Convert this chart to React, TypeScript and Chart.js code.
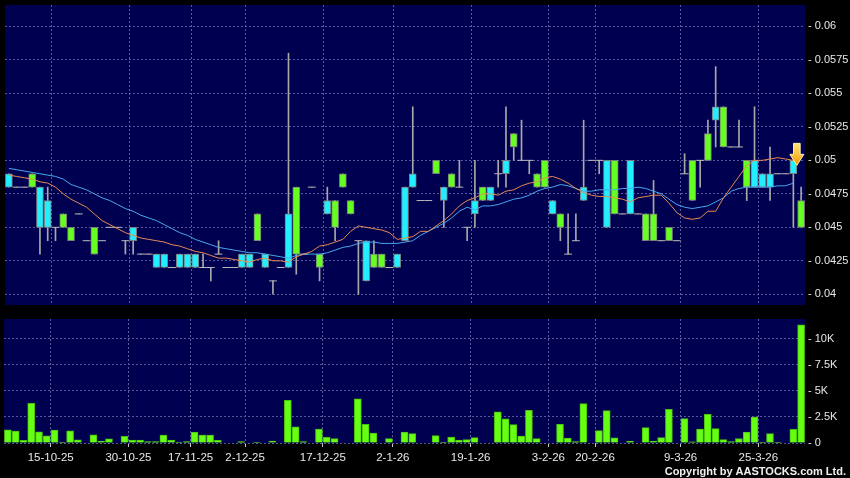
import React, { useEffect, useRef } from 'react';
import { Chart, registerables } from 'chart.js';

Chart.register(...registerables);

// ---- Data ----
const opens = [
  0.049, 0.048, 0.048, 0.048, 0.048, 0.047, 0.045, 0.045, 0.044, 0.046,
  0.044, 0.043, 0.044, 0.045, 0.045, 0.044, 0.045, 0.043, 0.043, 0.043,
  0.043, 0.042, 0.043, 0.043, 0.043, 0.042, 0.042, 0.043, 0.042, 0.042,
  0.043, 0.043, 0.044, 0.043, 0.041, 0.042, 0.046, 0.043, 0.043, 0.048,
  0.042, 0.047, 0.045, 0.048, 0.046, 0.044, 0.044, 0.042, 0.042, 0.042,
  0.043, 0.048, 0.049, 0.047, 0.047, 0.049, 0.048, 0.048, 0.048, 0.045,
  0.047, 0.047, 0.048, 0.049, 0.05, 0.051, 0.05, 0.05, 0.048, 0.048,
  0.047, 0.045, 0.043, 0.044, 0.048, 0.05, 0.05, 0.05, 0.046, 0.046,
  0.05, 0.046, 0.044, 0.044, 0.044, 0.044, 0.044, 0.049, 0.047, 0.05,
  0.05, 0.054, 0.051, 0.051, 0.051, 0.048, 0.05, 0.049, 0.049, 0.049,
  0.049, 0.05, 0.045,
];
const highs = [
  0.049, 0.048, 0.048, 0.049, 0.048, 0.048, 0.045, 0.046, 0.045, 0.046,
  0.044, 0.045, 0.044, 0.045, 0.045, 0.044, 0.045, 0.043, 0.043, 0.043,
  0.043, 0.042, 0.043, 0.043, 0.043, 0.043, 0.042, 0.044, 0.042, 0.042,
  0.043, 0.043, 0.046, 0.043, 0.041, 0.042, 0.058, 0.048, 0.043, 0.048,
  0.043, 0.048, 0.047, 0.049, 0.047, 0.044, 0.044, 0.044, 0.043, 0.042,
  0.043, 0.048, 0.054, 0.047, 0.047, 0.05, 0.048, 0.049, 0.05, 0.045,
  0.05, 0.048, 0.048, 0.05, 0.054, 0.052, 0.053, 0.05, 0.049, 0.05,
  0.047, 0.046, 0.046, 0.046, 0.053, 0.05, 0.05, 0.05, 0.05, 0.046,
  0.05, 0.046, 0.046, 0.0485, 0.044, 0.045, 0.044, 0.0505, 0.05, 0.05,
  0.053, 0.057, 0.054, 0.051, 0.053, 0.05, 0.054, 0.049, 0.051, 0.049,
  0.049, 0.05, 0.048,
];
const lows = [
  0.048, 0.048, 0.048, 0.048, 0.043, 0.044, 0.044, 0.045, 0.044, 0.046,
  0.044, 0.043, 0.044, 0.045, 0.045, 0.043, 0.043, 0.043, 0.043, 0.042,
  0.042, 0.042, 0.042, 0.042, 0.042, 0.042, 0.041, 0.043, 0.042, 0.042,
  0.042, 0.042, 0.044, 0.042, 0.04, 0.042, 0.042, 0.0415, 0.043, 0.048,
  0.041, 0.046, 0.044, 0.048, 0.046, 0.04, 0.041, 0.042, 0.042, 0.042,
  0.042, 0.044, 0.048, 0.047, 0.047, 0.049, 0.045, 0.048, 0.048, 0.044,
  0.045, 0.047, 0.047, 0.048, 0.048, 0.05, 0.05, 0.049, 0.048, 0.048,
  0.046, 0.044, 0.043, 0.044, 0.047, 0.05, 0.049, 0.045, 0.046, 0.046,
  0.046, 0.046, 0.044, 0.044, 0.044, 0.044, 0.044, 0.049, 0.047, 0.048,
  0.05, 0.051, 0.051, 0.051, 0.051, 0.047, 0.048, 0.048, 0.047, 0.049,
  0.049, 0.045, 0.045,
];
const closes = [
  0.048, 0.048, 0.048, 0.049, 0.045, 0.045, 0.045, 0.046, 0.045, 0.046,
  0.044, 0.045, 0.044, 0.045, 0.045, 0.044, 0.044, 0.043, 0.043, 0.042,
  0.042, 0.042, 0.042, 0.042, 0.042, 0.042, 0.042, 0.043, 0.042, 0.042,
  0.042, 0.042, 0.046, 0.042, 0.041, 0.042, 0.042, 0.048, 0.043, 0.048,
  0.043, 0.046, 0.047, 0.049, 0.047, 0.044, 0.041, 0.043, 0.043, 0.042,
  0.042, 0.044, 0.048, 0.047, 0.047, 0.05, 0.047, 0.049, 0.048, 0.045,
  0.046, 0.048, 0.047, 0.049, 0.049, 0.052, 0.05, 0.05, 0.049, 0.05,
  0.046, 0.046, 0.043, 0.044, 0.047, 0.05, 0.05, 0.045, 0.05, 0.046,
  0.046, 0.046, 0.046, 0.046, 0.044, 0.045, 0.044, 0.049, 0.05, 0.05,
  0.052, 0.053, 0.054, 0.051, 0.051, 0.05, 0.048, 0.048, 0.048, 0.049,
  0.049, 0.049, 0.047,
];
const maShort = [
  0.0489, 0.0488, 0.0487, 0.0486, 0.0484, 0.0483, 0.048, 0.0475, 0.0471, 0.0468,
  0.0465, 0.046, 0.0455, 0.0452, 0.0449, 0.0446, 0.0444, 0.0442, 0.0441, 0.044,
  0.0439, 0.0437, 0.0436, 0.0434, 0.0432, 0.0431, 0.0429, 0.0427, 0.0427, 0.0426,
  0.0425, 0.0424, 0.0426, 0.0427, 0.0425, 0.0425, 0.0424, 0.0428, 0.043, 0.0432,
  0.0436, 0.0437, 0.0439, 0.0441, 0.0447, 0.0451, 0.045, 0.0449, 0.0448, 0.0446,
  0.0441, 0.0442, 0.0443, 0.0447, 0.0447, 0.0451, 0.0455, 0.046, 0.0466, 0.047,
  0.0472, 0.0475, 0.0475, 0.0474, 0.0477, 0.0478, 0.0481, 0.0483, 0.0484, 0.0487,
  0.0488, 0.0486, 0.0483, 0.0479, 0.0476, 0.0474, 0.0473, 0.0473, 0.0472, 0.0471,
  0.0469, 0.0472, 0.0473, 0.0474, 0.0474, 0.0468, 0.0461, 0.0457, 0.0456, 0.0457,
  0.0462, 0.0462, 0.0472, 0.048, 0.0488, 0.0496, 0.05, 0.05, 0.0501, 0.0502,
  0.0501, 0.05, null,
];
const maLong = [
  0.0494, 0.0493, 0.0492, 0.0491, 0.049, 0.0489, 0.0488, 0.0486, 0.0482, 0.048,
  0.0478, 0.0475, 0.0472, 0.047, 0.0467, 0.0464, 0.0462, 0.0459, 0.0457, 0.0455,
  0.0452, 0.0449, 0.0446, 0.0444, 0.0441, 0.0439, 0.0437, 0.0435, 0.0434, 0.0433,
  0.0432, 0.0431, 0.0431, 0.043, 0.0429, 0.0428, 0.0427, 0.0429, 0.043, 0.043,
  0.043, 0.0431, 0.0433, 0.0435, 0.0436, 0.0438, 0.0439, 0.0439, 0.0438, 0.0438,
  0.0438, 0.0439, 0.044, 0.0444, 0.0447, 0.045, 0.0453, 0.0457, 0.0462, 0.0465,
  0.0463, 0.0466, 0.0466, 0.0467, 0.0469, 0.0471, 0.0472, 0.0474, 0.0477, 0.0479,
  0.048, 0.0482, 0.0481, 0.0479, 0.0477, 0.0477, 0.0478, 0.0478, 0.0478, 0.0479,
  0.0479, 0.048, 0.0479, 0.0477, 0.0475, 0.0471, 0.0467, 0.0465, 0.0464, 0.0465,
  0.0466, 0.0469, 0.0472, 0.0477, 0.0479, 0.048, 0.048, 0.048, 0.048, 0.0481,
  0.0481, 0.0483, null,
];
const volumes = [
  1270, 1140, 250, 3800, 1076, 700, 1234, 60, 1170, 316,
  0, 790, 190, 411, 0, 633, 285, 285, 127, 127,
  760, 285, 30, 127, 1050, 770, 770, 256, 0, 0,
  128, 0, 32, 0, 190, 0, 4100, 1540, 128, 0,
  1346, 545, 417, 0, 0, 4230, 1795, 962, 0, 417,
  0, 1040, 897, 0, 0, 705, 32, 577, 288, 320,
  513, 0, 0, 2981, 2320, 1763, 673, 3141, 417, 0,
  0, 1780, 465, 128, 3782, 0, 1186, 3100, 500, 0,
  176, 0, 1474, 192, 513, 3237, 0, 2340, 110, 1346,
  2756, 1378, 320, 128, 430, 1040, 2480, 64, 897, 64,
  0, 1300, 11350,
];
const dateTickPos = [5.5, 15.5, 23.5, 30.5, 40.5, 49.5, 59.5, 69.5, 75.5, 86.5, 96.5];
const dateTickLabels = [
  '15-10-25', '30-10-25', '17-11-25', '2-12-25', '17-12-25', '2-1-26',
  '19-1-26', '3-2-26', '20-2-26', '9-3-26', '25-3-26',
];
const priceTicks = [0.04, 0.0425, 0.045, 0.0475, 0.05, 0.0525, 0.055, 0.0575, 0.06];
const priceTickLabels = ['0.04', '0.0425', '0.045', '0.0475', '0.05', '0.0525', '0.055', '0.0575', '0.06'];
const volumeTicks = [0, 2500, 5000, 7500, 10000];
const volumeTickLabels = ['0', '2.5K', '5K', '7.5K', '10K'];
const arrowIndex = 101;
const copyrightText = 'Copyright by AASTOCKS.com Ltd.';

// ---- Styles ----
const NAVY = '#000050';
const GRID = '#5a5a9a';
const UP = '#66ff22';
const DOWN = '#22eeff';
const LABEL = '#e8e8e8';
const FONT = '"Liberation Sans", Arial, sans-serif';

const plotBg = {
  id: 'plotBg',
  beforeDraw(chart: any) {
    const { ctx, chartArea: a } = chart;
    ctx.save();
    ctx.fillStyle = NAVY;
    ctx.fillRect(a.left, a.top, a.right - a.left, a.bottom - a.top);
    ctx.restore();
  },
};

const arrowPlugin = {
  id: 'arrow',
  afterDatasetsDraw(chart: any) {
    const { ctx } = chart;
    const xs = chart.scales.x;
    const ys = chart.scales.y;
    const x = xs.getPixelForValue(arrowIndex) + 3.5;
    const tip = ys.getPixelForValue(highs[arrowIndex]) + 5;
    const h = 22, headH = 11, headW = 7, shaftW = 3.3;
    ctx.save();
    const g = ctx.createLinearGradient(0, tip - h, 0, tip);
    g.addColorStop(0, '#ffe27a');
    g.addColorStop(1, '#f29a00');
    ctx.beginPath();
    ctx.moveTo(x - shaftW, tip - h);
    ctx.lineTo(x + shaftW, tip - h);
    ctx.lineTo(x + shaftW, tip - headH);
    ctx.lineTo(x + headW, tip - headH);
    ctx.lineTo(x, tip);
    ctx.lineTo(x - headW, tip - headH);
    ctx.lineTo(x - shaftW, tip - headH);
    ctx.closePath();
    ctx.fillStyle = g;
    ctx.fill();
    ctx.strokeStyle = '#fff1b0';
    ctx.lineWidth = 1;
    ctx.stroke();
    ctx.restore();
  },
};

const copyrightPlugin = {
  id: 'copyright',
  afterDraw(chart: any) {
    const { ctx } = chart;
    ctx.save();
    ctx.font = 'bold 11px ' + FONT;
    const w = ctx.measureText(copyrightText).width;
    const ls = Math.max(0, (161 - w) / copyrightText.length);
    (ctx as any).letterSpacing = ls.toFixed(2) + 'px';
    ctx.fillStyle = '#f0f0f0';
    ctx.textAlign = 'right';
    ctx.textBaseline = 'alphabetic';
    ctx.fillText(copyrightText, 846, 165);
    ctx.restore();
  },
};

const idx = opens.map((_, i) => i);
const bodyIdx = idx.filter((i) => opens[i] !== closes[i]);
const flatIdx = idx.filter((i) => opens[i] === closes[i]);

const xBase = {
  type: 'linear' as const,
  min: -0.5,
  max: 102.5,
  offset: false,
  afterBuildTicks: (s: any) => {
    s.ticks = dateTickPos.map((v) => ({ value: v }));
  },
};

const noPadY = (s: any) => {
  s.width = 45;
  s.paddingTop = 0;
  s.paddingBottom = 0;
};

function priceConfig(): any {
  return {
    type: 'bar',
    data: {
      datasets: [
        {
          type: 'line',
          data: maShort.map((v, i) => ({ x: i, y: v })),
          borderColor: '#e88a50',
          borderWidth: 1,
          pointRadius: 0,
          order: 0,
        },
        {
          type: 'line',
          data: maLong.map((v, i) => ({ x: i, y: v })),
          borderColor: '#48a8ee',
          borderWidth: 1,
          pointRadius: 0,
          order: 1,
        },
        {
          type: 'line',
          data: flatIdx.map((i) => ({ x: i, y: opens[i] })),
          showLine: false,
          pointStyle: 'line',
          pointRadius: 3.9,
          pointBorderColor: '#b8b8b8',
          pointBackgroundColor: '#b8b8b8',
          pointBorderWidth: 1,
          order: 2,
        },
        {
          type: 'bar',
          data: bodyIdx.map((i) => ({ x: i, y: [opens[i], closes[i]] })),
          backgroundColor: bodyIdx.map((i) => (closes[i] > opens[i] ? UP : DOWN)),
          borderColor: '#7c7c7c',
          borderWidth: 1,
          borderSkipped: false,
          barThickness: 7,
          grouped: false,
          order: 3,
        },
        {
          type: 'bar',
          data: idx.map((i) => ({ x: i, y: [lows[i], highs[i]] })),
          backgroundColor: '#a8a8a8',
          borderWidth: 0,
          barThickness: 1,
          grouped: false,
          order: 4,
        },
      ],
    },
    options: {
      responsive: false,
      animation: false,
      devicePixelRatio: 1,
      events: [],
      layout: { padding: { left: 4, top: 5, right: 0, bottom: 5 } },
      plugins: { legend: { display: false }, tooltip: { enabled: false } },
      scales: {
        x: {
          ...xBase,
          display: true,
          ticks: { display: false },
          grid: { color: GRID, lineWidth: 1, drawTicks: false, offset: false },
          border: { display: false, dash: [2, 2] },
          afterFit: (s: any) => {
            s.height = 0;
            s.paddingLeft = 0;
            s.paddingRight = 0;
          },
        },
        y: {
          type: 'linear',
          position: 'right',
          min: 0.0392,
          max: 0.0616,
          afterBuildTicks: (s: any) => {
            s.ticks = priceTicks.map((v) => ({ value: v }));
          },
          ticks: {
            color: LABEL,
            font: { family: FONT, size: 11 },
            padding: 3,
            callback: (v: number) => {
              const k = priceTicks.indexOf(v);
              return '- ' + (k >= 0 ? priceTickLabels[k] : String(v));
            },
          },
          grid: { color: GRID, lineWidth: 1, drawTicks: false },
          border: { display: false, dash: [2, 2] },
          afterFit: noPadY,
        },
      },
    },
    plugins: [plotBg, arrowPlugin],
  };
}

function volumeConfig(): any {
  return {
    type: 'bar',
    data: {
      datasets: [
        {
          data: volumes.map((v, i) => ({ x: i, y: v })),
          backgroundColor: '#66ff11',
          borderColor: '#4cc010',
          borderWidth: 1,
          barThickness: 7,
          grouped: false,
        },
      ],
    },
    options: {
      responsive: false,
      animation: false,
      devicePixelRatio: 1,
      events: [],
      layout: { padding: { left: 4, top: 9, right: 0, bottom: 0 } },
      plugins: { legend: { display: false }, tooltip: { enabled: false } },
      scales: {
        x: {
          ...xBase,
          display: true,
          ticks: {
            color: LABEL,
            font: { family: FONT, size: 11.5 },
            padding: 4,
            autoSkip: false,
            maxRotation: 0,
            callback: (v: number) => {
              const k = dateTickPos.indexOf(v);
              return k >= 0 ? dateTickLabels[k] : '';
            },
          },
          grid: {
            color: GRID,
            lineWidth: 1,
            drawTicks: true,
            tickLength: 4,
            tickColor: '#c8c8c8',
            tickBorderDash: [],
            offset: false,
          },
          border: { display: false, dash: [2, 2] },
          afterFit: (s: any) => {
            s.height = 35;
            s.paddingLeft = 0;
            s.paddingRight = 0;
          },
        },
        y: {
          type: 'linear',
          position: 'right',
          min: 0,
          max: 11900,
          afterBuildTicks: (s: any) => {
            s.ticks = volumeTicks.map((v) => ({ value: v }));
          },
          ticks: {
            color: LABEL,
            font: { family: FONT, size: 11 },
            padding: 3,
            callback: (v: number) => {
              const k = volumeTicks.indexOf(v);
              return '- ' + (k >= 0 ? volumeTickLabels[k] : String(v));
            },
          },
          grid: { color: GRID, lineWidth: 1, drawTicks: false },
          border: { display: false, dash: [2, 2] },
          afterFit: noPadY,
        },
      },
    },
    plugins: [plotBg, copyrightPlugin],
  };
}

export default function App() {
  const priceRef = useRef<HTMLCanvasElement>(null);
  const volRef = useRef<HTMLCanvasElement>(null);

  useEffect(() => {
    document.body.style.margin = '0';
    document.body.style.background = '#000';
    const c1 = new Chart(priceRef.current as HTMLCanvasElement, priceConfig());
    const c2 = new Chart(volRef.current as HTMLCanvasElement, volumeConfig());
    return () => {
      c1.destroy();
      c2.destroy();
    };
  }, []);

  return (
    <div style={{ position: 'relative', width: 850, height: 478, background: '#000', overflow: 'hidden' }}>
      <canvas
        ref={priceRef}
        width={850}
        height={310}
        style={{ position: 'absolute', left: 0, top: 0, width: 850, height: 310 }}
      />
      <canvas
        ref={volRef}
        width={850}
        height={168}
        style={{ position: 'absolute', left: 0, top: 310, width: 850, height: 168 }}
      />
    </div>
  );
}
